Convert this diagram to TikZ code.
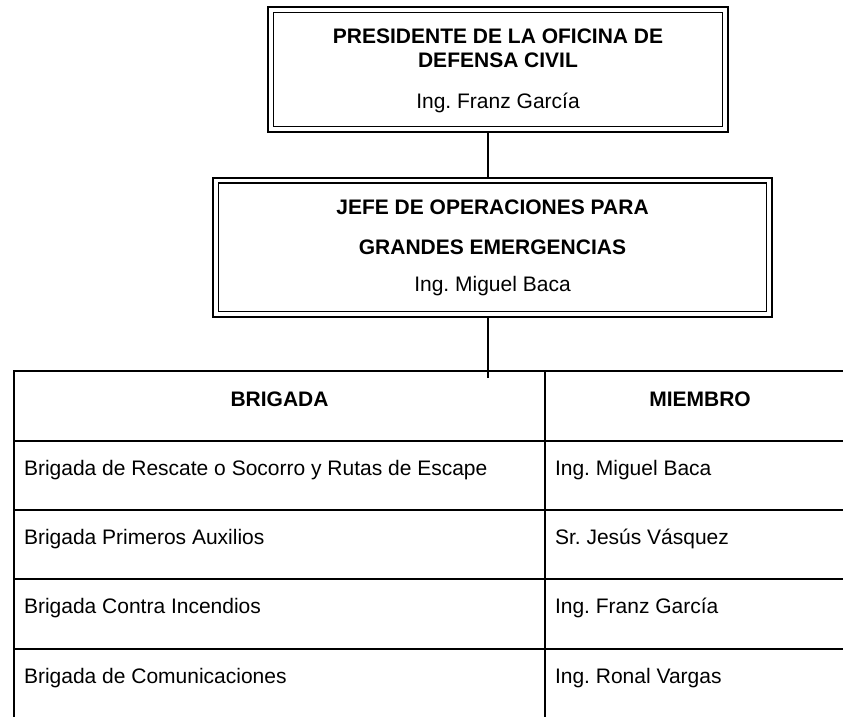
\documentclass[tikz,border=0pt]{standalone}
\usepackage{fontspec}
\setmainfont{Liberation Sans}
\usepackage{tikz}
\frenchspacing

\begin{document}
\begin{tikzpicture}[x=1pt,y=-1pt,
  every node/.style={font=\fontsize{21}{24.4}\selectfont, inner sep=0pt, outer sep=0pt},
  cargo/.style={draw, line width=2pt, rectangle},
  linea/.style={line width=1.3pt},
  tabla/.style={line width=1.6pt}]
\clip (0,0) rectangle (843,716);
% cargos
\node[cargo, minimum width=460, minimum height=125] (pres) at (498,69.5) {};
\draw[linea] ([shift={(5.5pt,-5.5pt)}]pres.north west) rectangle ([shift={(-5.5pt,5.5pt)}]pres.south east);
\node[anchor=base] (pres1) at (498,43.3) {\bfseries PRESIDENTE DE LA OFICINA DE};
\node[anchor=base] (pres2) at (498,67.7) {\bfseries DEFENSA CIVIL};
\node[anchor=base] (pres3) at (498,108.3) {Ing. Franz García};
\node[cargo, minimum width=559, minimum height=139.5] (jefe) at (492.5,247.25) {};
\draw[linea] ([shift={(5.5pt,-5.5pt)}]jefe.north west) rectangle ([shift={(-5.5pt,5.5pt)}]jefe.south east);
\node[anchor=base] (jefe1) at (492.5,214) {\bfseries JEFE DE OPERACIONES PARA};
\node[anchor=base] (jefe2) at (492.5,254) {\bfseries GRANDES EMERGENCIAS};
\node[anchor=base] (jefe3) at (492.5,291.7) {Ing. Miguel Baca};
% enlaces
\coordinate (tabtop) at (488,378);
\draw[linea] ([xshift=-10pt]pres.south) -- ([xshift=-4.5pt]jefe.north);
\draw[linea] ([xshift=-4.5pt]jefe.south) -- (tabtop);
% tabla de brigadas
\draw[tabla] (14,371) rectangle (855,718);
\draw[tabla] (545,371) -- (545,718);
\draw[tabla] (14,441) -- (855,441);
\draw[tabla] (14,510) -- (855,510);
\draw[tabla] (14,579) -- (855,579);
\draw[tabla] (14,649) -- (855,649);
\node[anchor=base] (hbrig) at (279.5,406) {\bfseries BRIGADA};
\node[anchor=base] (hmiem) at (700,406) {\bfseries MIEMBRO};
\node[anchor=base west] (b1) at (24,475) {Brigada de Rescate o Socorro y Rutas de Escape};
\node[anchor=base west] (m1) at (555,475) {Ing. Miguel Baca};
\node[anchor=base west] (b2) at (24,544) {Brigada Primeros Auxilios};
\node[anchor=base west] (m2) at (555,544) {Sr. Jesús Vásquez};
\node[anchor=base west] (b3) at (24,613.5) {Brigada Contra Incendios};
\node[anchor=base west] (m3) at (555,613.5) {Ing. Franz García};
\node[anchor=base west] (b4) at (24,683.5) {Brigada de Comunicaciones};
\node[anchor=base west] (m4) at (555,683.5) {Ing. Ronal Vargas};
\end{tikzpicture}
\end{document}
